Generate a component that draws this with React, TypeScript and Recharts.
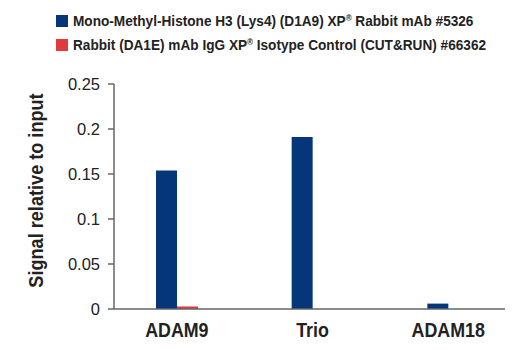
import React from 'react';
import { BarChart, Bar, XAxis, YAxis } from 'recharts';

const categories = ['ADAM9', 'Trio', 'ADAM18'];
const monoMethylValues = [0.154, 0.191, 0.006];
const isotypeValues = [0.0028, 0, 0];
const yTicks = [0, 0.05, 0.1, 0.15, 0.2, 0.25];
const seriesNames = [
  'Mono-Methyl-Histone H3 (Lys4) (D1A9) XP® Rabbit mAb #5326',
  'Rabbit (DA1E) mAb IgG XP® Isotype Control (CUT&RUN) #66362',
];
const colors = ['#06367a', '#e0393e'];

const data = categories.map((c, i) => ({
  name: c,
  mono: monoMethylValues[i],
  iso: isotypeValues[i],
}));

const sans = '"Liberation Sans", Arial, Helvetica, sans-serif';

const LegendBox = () => (
  <div
    style={{
      position: 'absolute',
      left: 56,
      top: 9,
      fontFamily: sans,
      fontWeight: 700,
      fontSize: 15.4,
      color: '#222',
      lineHeight: 1,
    }}
  >
    {seriesNames.map((n, i) => {
      const parts = n.split('®');
      return (
        <div key={n} style={{ display: 'flex', alignItems: 'center', height: 24 }}>
          <span
            style={{ display: 'inline-block', width: 12, height: 12, background: colors[i], marginRight: 5 }}
          />
          <span
            style={{
              display: 'inline-block',
              whiteSpace: 'nowrap',
              transform: 'scaleX(0.885)',
              transformOrigin: 'left center',
            }}
          >
            {parts[0]}
            <sup style={{ fontSize: 9, verticalAlign: 5 }}>®</sup>
            {parts[1]}
          </span>
        </div>
      );
    })}
  </div>
);

const YLabel = () => (
  <text
    x={0}
    y={0}
    transform="translate(42.5,190.5) rotate(-90) scale(0.93,1)"
    textAnchor="middle"
    style={{ fontFamily: sans, fontWeight: 700, fontSize: 19.5, fill: '#222' }}
  >
    Signal relative to input
  </text>
);

const XTick = (props: any) => {
  const { x, y, payload } = props;
  return (
    <text
      transform={`translate(${x},${y + 20}) scale(0.85,1)`}
      textAnchor="middle"
      style={{ fontFamily: sans, fontWeight: 700, fontSize: 21, fill: '#222' }}
    >
      {payload.value}
    </text>
  );
};

export default function App() {
  return (
    <div style={{ position: 'absolute', left: 0, top: 0, width: 520, height: 350 }}>
      <LegendBox />
      <BarChart
        width={520}
        height={350}
        data={data}
        margin={{ top: 84, right: 15, bottom: 11, left: 0 }}
        barGap={0}
        barSize={21}
      >
        <XAxis
          dataKey="name"
          height={30}
          tickLine={false}
          axisLine={{ stroke: '#666', strokeWidth: 1.5 }}
          padding={{ left: -5, right: -11 }}
          tickMargin={2}
          tick={<XTick />}
          interval={0}
        />
        <YAxis
          width={114}
          domain={[0, 0.25]}
          ticks={yTicks}
          tickSize={6}
          tickMargin={8}
          axisLine={{ stroke: '#666', strokeWidth: 1.5 }}
          tickLine={{ stroke: '#666', strokeWidth: 1.5 }}
          tick={{ fontFamily: sans, fontSize: 16.5, fill: '#222' }}
          label={<YLabel />}
        />
        <Bar dataKey="mono" fill={colors[0]} isAnimationActive={false} />
        <Bar dataKey="iso" fill={colors[1]} isAnimationActive={false} />
      </BarChart>
    </div>
  );
}
